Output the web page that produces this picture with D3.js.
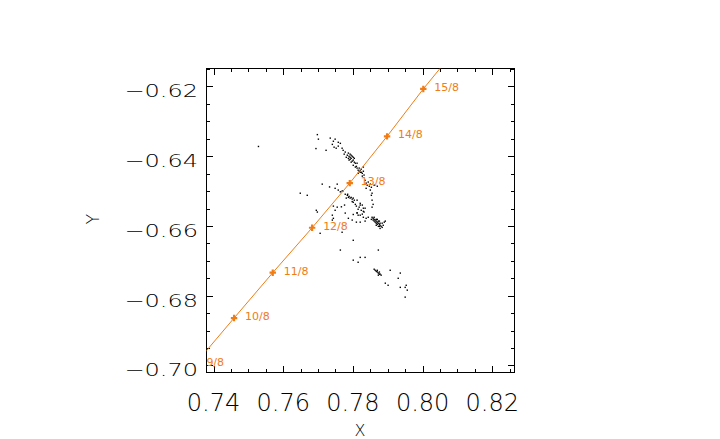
<!DOCTYPE html>
<html><head><meta charset="utf-8">
<script src="https://cdn.jsdelivr.net/npm/d3@7"></script>
<style>
body{margin:0;background:#fff;}
svg text{font-family:"DejaVu Sans",sans-serif;font-weight:200;}
svg text.date{font-weight:400;}
</style>
</head><body>
<svg id="chart" width="720" height="439"></svg>
<script>
// ---- data ----
const xTicks = [0.74, 0.76, 0.78, 0.80, 0.82];
const xTickLabels = ["0.74", "0.76", "0.78", "0.80", "0.82"];
const yTicks = [-0.70, -0.68, -0.66, -0.64, -0.62];
const yTickLabels = ["\u22120.70", "\u22120.68", "\u22120.66", "\u22120.64", "\u22120.62"];
const xTitle = "X";
const yTitle = "Y";

const trackDates = ["9/8", "10/8", "11/8", "12/8", "13/8", "14/8", "15/8", "16/8"];
const trackX = [0.7348, 0.7459, 0.7570, 0.7683, 0.7791, 0.7898, 0.8002, 0.8110];
const trackY = [-0.6995, -0.6864, -0.6734, -0.6605, -0.6477, -0.6343, -0.6207, -0.6075];

const dotX = [0.7529,0.7698,0.7701,0.7694,0.7735,0.7744,0.7749,0.7758,0.7741,0.7746,
0.7752,0.7758,0.7772,0.7778,0.7775,0.7784,0.7789,0.7792,0.7795,0.7798,
0.7792,0.7801,0.7798,0.7804,0.7787,0.7795,0.7807,0.7810,0.7807,0.7812,
0.7815,0.7818,0.7821,0.7824,0.7815,0.7827,0.7801,0.7812,0.7830,0.7824,
0.7835,0.7838,0.7844,0.7841,0.7850,0.7847,0.7850,0.7855,0.7853,0.7712,
0.7649,0.7669,0.7749,0.7758,0.7769,0.7784,0.7787,0.7792,0.7798,0.7801,
0.7789,0.7795,0.7812,0.7821,0.7827,0.7818,0.7830,0.7835,0.7824,0.7801,
0.7807,0.7744,0.7755,0.7749,0.7695,0.7698,0.7812,0.7821,0.7830,0.7838,
0.7844,0.7815,0.7855,0.7858,0.7861,0.7864,0.7867,0.7870,0.7873,0.7876,
0.7878,0.7858,0.7864,0.7870,0.7861,0.7867,0.7873,0.7878,0.7867,0.7876,
0.7881,0.7884,0.7890,0.7741,0.7744,0.7741,0.7706,0.7769,0.7801,0.7764,
0.7821,0.7801,0.7815,0.7835,0.7873,0.7864,0.7867,0.7870,0.7873,0.7876,
0.7878,0.7873,0.7907,0.7936,0.7930,0.7893,0.7901,0.7936,0.7950,0.7953,
0.7956,0.7950,
0.7789,0.7801,0.7795,0.7804,0.7792,0.7787,0.7818,0.7821,0.7830,0.7832,
0.7827,0.7838,0.7853,0.7861,0.7870,0.7855,0.7858,0.7855,0.7778,0.7781,
0.7804,0.7810,0.7815,0.7832,0.7827,0.7778,0.7787,0.7798,0.7810,0.7821,
0.7835,0.7861,0.7867,0.7873,0.7878,0.7884,0.7853,0.7870,0.7876,0.7887,
0.7893,0.7861,0.7870,0.7876,0.7881,0.7723,0.7764,0.7769,0.7781,0.7733,
0.7755,0.7764,0.7772,0.7785,0.7767,0.7776,0.7798,0.7821,0.7830,0.7812,
0.7801];
const dotY = [-0.6372,-0.6338,-0.6351,-0.6378,-0.6348,-0.6357,-0.6351,-0.6360,-0.6366,-0.6374,
-0.6377,-0.6371,-0.6383,-0.6388,-0.6394,-0.6397,-0.6400,-0.6403,-0.6406,-0.6400,
-0.6409,-0.6411,-0.6414,-0.6406,-0.6406,-0.6397,-0.6420,-0.6429,-0.6431,-0.6434,
-0.6440,-0.6443,-0.6440,-0.6446,-0.6449,-0.6449,-0.6426,-0.6420,-0.6431,-0.6437,
-0.6469,-0.6477,-0.6474,-0.6483,-0.6480,-0.6486,-0.6497,-0.6506,-0.6512,-0.6480,
-0.6506,-0.6512,-0.6492,-0.6497,-0.6500,-0.6512,-0.6518,-0.6520,-0.6523,-0.6520,
-0.6515,-0.6518,-0.6526,-0.6535,-0.6540,-0.6546,-0.6549,-0.6549,-0.6555,-0.6532,
-0.6538,-0.6543,-0.6546,-0.6555,-0.6555,-0.6560,-0.6563,-0.6569,-0.6575,-0.6578,
-0.6575,-0.6569,-0.6575,-0.6578,-0.6581,-0.6583,-0.6586,-0.6589,-0.6592,-0.6595,
-0.6598,-0.6583,-0.6589,-0.6595,-0.6575,-0.6581,-0.6586,-0.6592,-0.6592,-0.6601,
-0.6601,-0.6592,-0.6589,-0.6569,-0.6578,-0.6583,-0.6621,-0.6618,-0.6641,-0.6669,
-0.6690,-0.6698,-0.6704,-0.6690,-0.6669,-0.6727,-0.6730,-0.6732,-0.6735,-0.6738,
-0.6738,-0.6741,-0.6727,-0.6735,-0.6750,-0.6764,-0.6770,-0.6776,-0.6776,-0.6770,
-0.6784,-0.6804,
-0.6411,-0.6403,-0.6417,-0.6417,-0.6394,-0.6391,-0.6434,-0.6446,-0.6443,-0.6454,
-0.6457,-0.6492,-0.6489,-0.6483,-0.6486,-0.6526,-0.6538,-0.6546,-0.6509,-0.6520,
-0.6526,-0.6543,-0.6552,-0.6560,-0.6566,-0.6563,-0.6578,-0.6583,-0.6589,-0.6589,
-0.6586,-0.6586,-0.6598,-0.6601,-0.6607,-0.6604,-0.6581,-0.6581,-0.6586,-0.6598,
-0.6586,-0.6724,-0.6727,-0.6732,-0.6741,-0.6383,-0.6363,-0.6377,-0.6403,-0.6488,
-0.6480,-0.6502,-0.6499,-0.6509,-0.6545,-0.6540,-0.6530,-0.6540,-0.6558,-0.6562,
-0.6567];

// ---- layout ----
const svg = d3.select("#chart");
const L = 206.5, R = 514.5, T = 68.5, B = 372.5;
const x = d3.scaleLinear().domain([0.73799, 0.82637]).range([L, R]);
const y = d3.scaleLinear().domain([-0.70201, -0.61484]).range([B, T]);
const orange = "#f07c14";

svg.append("defs").append("clipPath").attr("id", "plotclip")
  .append("rect").attr("x", L).attr("y", T).attr("width", R - L).attr("height", B - T);

// frame
svg.append("rect").attr("x", L).attr("y", T).attr("width", R - L).attr("height", B - T)
  .attr("fill", "none").attr("stroke", "#000").attr("stroke-width", 1);

// ticks on all four sides, pointing inwards
const major = 6.5, minor = 3.5;
const xMinor = d3.range(0.735, 0.8301, 0.005).filter(v => v > x.domain()[0] && v < x.domain()[1]);
const yMinor = d3.range(-0.705, -0.6101, 0.005).filter(v => v > y.domain()[0] && v < y.domain()[1]);
const isMajor = v => Math.abs(Math.round(v / 0.02) * 0.02 - v) < 1e-6;

const tg = svg.append("g").attr("stroke", "#000").attr("stroke-width", 1);
xMinor.forEach(v => {
  const len = isMajor(v) ? major : minor;
  const px = Math.round(x(v)) + 0.5;
  tg.append("line").attr("x1", px).attr("x2", px).attr("y1", B).attr("y2", B - len);
  tg.append("line").attr("x1", px).attr("x2", px).attr("y1", T).attr("y2", T + len);
});
yMinor.forEach(v => {
  const len = isMajor(v) ? major : minor;
  const py = Math.round(y(v)) + 0.5;
  tg.append("line").attr("y1", py).attr("y2", py).attr("x1", L).attr("x2", L + len);
  tg.append("line").attr("y1", py).attr("y2", py).attr("x1", R).attr("x2", R - len);
});

// tick labels
svg.append("g").selectAll("text").data(xTicks).join("text")
  .attr("transform", d => `translate(${x(d)},410.7)`)
  .attr("text-anchor", "middle").attr("font-size", 24).attr("fill", "#000")
  .text((d, i) => xTickLabels[i]);

svg.append("g").selectAll("text").data(yTicks).join("text")
  .attr("transform", d => `translate(198,${y(d) + 11}) scale(1,0.72)`)
  .attr("text-anchor", "end").attr("font-size", 24).attr("fill", "#000")
  .text((d, i) => yTickLabels[i]);

// axis titles
svg.append("text").attr("x", 360).attr("y", 436).attr("text-anchor", "middle")
  .attr("font-size", 16).attr("fill", "#000").text(xTitle);
svg.append("text").attr("transform", "translate(99,219) rotate(-90)")
  .attr("text-anchor", "middle").attr("font-size", 17).attr("fill", "#000").text(yTitle);

// plot content
const plot = svg.append("g").attr("clip-path", "url(#plotclip)");

plot.append("g").selectAll("rect").data(dotX).join("rect")
  .attr("x", d => x(d) - 0.7).attr("y", (d, i) => y(dotY[i]) - 0.7)
  .attr("width", 1.4).attr("height", 1.4).attr("fill", "#000");

const track = trackX.map((v, i) => [v, trackY[i]]);
plot.append("path").datum(track)
  .attr("d", d3.line().x(d => x(d[0])).y(d => y(d[1])))
  .attr("fill", "none").attr("stroke", orange).attr("stroke-width", 1);

const mk = plot.append("g").attr("stroke", orange).attr("stroke-width", 2.2);
track.forEach(d => {
  const px = x(d[0]), py = y(d[1]);
  mk.append("line").attr("x1", px - 3.2).attr("x2", px + 3.2).attr("y1", py).attr("y2", py);
  mk.append("line").attr("x1", px).attr("x2", px).attr("y1", py - 3.2).attr("y2", py + 3.2);
});

plot.append("g").selectAll("text").data(track).join("text")
  .attr("class", "date")
  .attr("x", d => x(d[0]) + 11).attr("y", d => y(d[1]) + 2)
  .attr("font-size", 11).attr("fill", orange)
  .text((d, i) => trackDates[i]);
</script>
</body></html>
